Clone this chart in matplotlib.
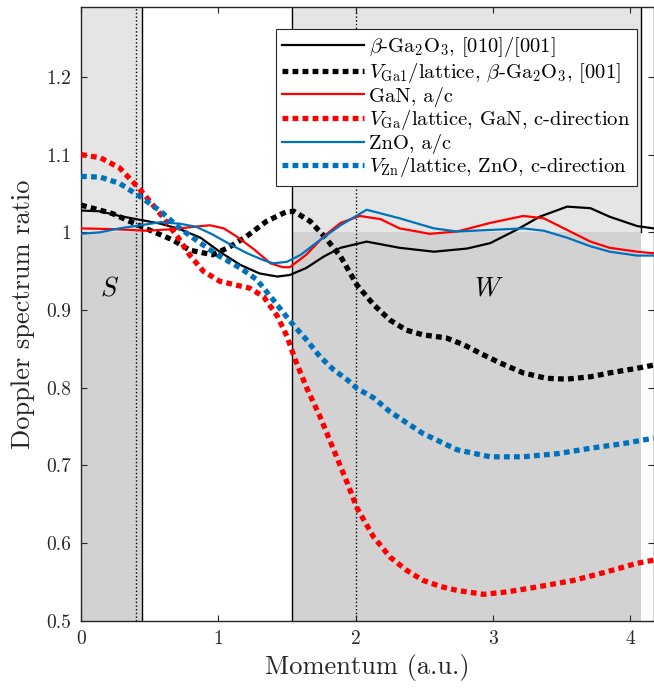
import matplotlib
matplotlib.use("Agg")
import matplotlib.pyplot as plt
from matplotlib.patches import Rectangle

plt.rcParams['font.family'] = 'serif'
plt.rcParams['font.serif'] = ['cmr10']
plt.rcParams['mathtext.fontset'] = 'cm'
plt.rcParams['axes.formatter.use_mathtext'] = True

# beta-Ga2O3 [010]/[001] (solid black)
x_ga2o3 = [0.0, 0.14, 0.28, 0.43, 0.58, 0.72, 0.87, 1.01, 1.16, 1.30, 1.43, 1.52, 1.64, 1.77, 1.89,
           2.08, 2.32, 2.57, 2.81, 2.98, 3.17, 3.34, 3.54, 3.71, 3.85, 4.05, 4.17]
y_ga2o3 = [1.028, 1.027, 1.021, 1.016, 1.011, 1.004, 0.993, 0.975, 0.958, 0.947, 0.943, 0.945, 0.954, 0.969, 0.980,
           0.988, 0.980, 0.975, 0.979, 0.986, 1.003, 1.020, 1.033, 1.031, 1.020, 1.008, 1.005]

# V_Ga1/lattice beta-Ga2O3 [001] (dotted black)
x_vga1 = [0.0, 0.23, 0.47, 0.67, 0.79, 0.96, 1.08, 1.20, 1.35, 1.49, 1.55, 1.67, 1.77, 1.89, 2.01,
          2.13, 2.25, 2.37, 2.49, 2.66, 2.79, 2.91, 3.05, 3.22, 3.39, 3.54, 3.71, 3.85, 4.05, 4.17]
y_vga1 = [1.035, 1.024, 1.005, 0.990, 0.977, 0.971, 0.981, 0.994, 1.014, 1.026, 1.027, 1.014, 0.995, 0.969, 0.932,
          0.907, 0.887, 0.874, 0.868, 0.864, 0.855, 0.844, 0.832, 0.819, 0.812, 0.811, 0.814, 0.819, 0.825, 0.829]

# GaN a/c (solid red)
x_gan = [0.0, 0.24, 0.48, 0.67, 0.82, 0.94, 1.04, 1.13, 1.26, 1.38, 1.47, 1.52, 1.64, 1.77, 1.89,
         2.03, 2.18, 2.32, 2.54, 2.74, 2.98, 3.22, 3.37, 3.54, 3.71, 3.85, 4.05, 4.17]
y_gan = [1.005, 1.004, 1.002, 1.004, 1.007, 1.009, 1.005, 0.995, 0.978, 0.960, 0.955, 0.955, 0.971, 0.995, 1.012,
         1.021, 1.017, 1.005, 0.998, 1.001, 1.012, 1.021, 1.018, 1.003, 0.988, 0.980, 0.975, 0.973]

# V_Ga/lattice GaN c-direction (dotted red)
x_vga = [0.0, 0.14, 0.28, 0.43, 0.58, 0.70, 0.79, 0.89, 1.01, 1.13, 1.23, 1.33, 1.43, 1.50, 1.56,
         1.64, 1.74, 1.84, 1.94, 2.01, 2.13, 2.25, 2.37, 2.49, 2.62, 2.74, 2.93, 3.10, 3.34, 3.59,
         3.83, 4.05, 4.17]
y_vga = [1.100, 1.096, 1.083, 1.055, 1.023, 0.995, 0.971, 0.950, 0.937, 0.932, 0.928, 0.917, 0.892, 0.866, 0.836,
         0.801, 0.763, 0.720, 0.677, 0.645, 0.608, 0.582, 0.565, 0.552, 0.544, 0.539, 0.534, 0.537, 0.544, 0.552,
         0.563, 0.574, 0.578]

# ZnO a/c (solid blue)
x_zno = [0.0, 0.14, 0.28, 0.43, 0.58, 0.72, 0.84, 0.96, 1.09, 1.21, 1.33, 1.40, 1.50, 1.60, 1.74,
         1.89, 2.08, 2.32, 2.57, 2.74, 2.98, 3.22, 3.37, 3.54, 3.71, 3.85, 4.05, 4.17]
y_zno = [0.998, 1.000, 1.005, 1.009, 1.013, 1.011, 1.007, 0.997, 0.984, 0.973, 0.964, 0.960, 0.962, 0.971, 0.990,
         1.009, 1.029, 1.018, 1.005, 1.001, 1.003, 1.005, 1.002, 0.993, 0.982, 0.975, 0.970, 0.970]

# V_Zn/lattice ZnO c-direction (dotted blue)
x_vzn = [0.0, 0.14, 0.28, 0.43, 0.58, 0.72, 0.87, 1.01, 1.16, 1.28, 1.40, 1.52, 1.64, 1.74, 1.84,
         1.94, 2.01, 2.13, 2.25, 2.49, 2.74, 2.98, 3.22, 3.47, 3.71, 3.95, 4.17]
y_vzn = [1.072, 1.071, 1.063, 1.046, 1.027, 1.005, 0.986, 0.969, 0.954, 0.939, 0.913, 0.886, 0.862, 0.840, 0.823,
         0.810, 0.799, 0.787, 0.769, 0.741, 0.720, 0.711, 0.711, 0.715, 0.722, 0.728, 0.735]

labels = [r'$\beta$-Ga$_2$O$_3$, [010]/[001]',
          r'$V_{\mathrm{Ga1}}$/lattice, $\beta$-Ga$_2$O$_3$, [001]',
          'GaN, a/c',
          r'$V_{\mathrm{Ga}}$/lattice, GaN, c-direction',
          'ZnO, a/c',
          r'$V_{\mathrm{Zn}}$/lattice, ZnO, c-direction']

s_window = [0.0, 0.444]
w_window = [1.539, 4.076]
xticks = [0, 1, 2, 3, 4]
yticks = [0.5, 0.6, 0.7, 0.8, 0.9, 1.0, 1.1, 1.2]
yticklabels = ['0.5', '0.6', '0.7', '0.8', '0.9', '1', '1.1', '1.2']

axcol = '#262626'
blue = '#0072BD'
red = '#FF0000'

fig = plt.figure(figsize=(6.54, 6.90), dpi=100)
ax = fig.add_axes([0.1239, 0.1004, 0.8761, 0.8895])
ax.set_xlim(0, 4.173)
ax.set_ylim(0.5, 1.29)

# shaded S and W windows
for lo, hi in [s_window, w_window]:
    ax.add_patch(Rectangle((lo, 0.5), hi - lo, 0.79, facecolor='#e5e5e5', edgecolor='none', zorder=0))
    ax.add_patch(Rectangle((lo, 0.5), hi - lo, 0.5, facecolor='#d2d2d2', edgecolor='none', zorder=0))
ax.axvline(s_window[1], color='k', lw=1.0, zorder=1)
ax.axvline(w_window[0], color='k', lw=1.0, zorder=1)
ax.plot([w_window[1], w_window[1]], [1.0, 1.29], color='k', lw=1.0, zorder=1)
ax.axvline(0.40, color='k', lw=1.0, ls=':', zorder=1)
ax.axvline(2.0, color='k', lw=1.0, ls=':', zorder=1)

dots = (1.1, 0.8)
ax.plot(x_ga2o3, y_ga2o3, color='k', lw=1.6, label=labels[0], zorder=3)
ax.plot(x_vga1, y_vga1, color='k', lw=3.8, dashes=dots, dash_capstyle='butt', label=labels[1], zorder=3)
ax.plot(x_gan, y_gan, color=red, lw=1.6, label=labels[2], zorder=3)
ax.plot(x_vga, y_vga, color=red, lw=3.8, dashes=dots, dash_capstyle='butt', label=labels[3], zorder=3)
ax.plot(x_zno, y_zno, color=blue, lw=1.6, label=labels[4], zorder=3)
ax.plot(x_vzn, y_vzn, color=blue, lw=3.8, dashes=dots, dash_capstyle='butt', label=labels[5], zorder=3)

ax.text(0.21, 0.928, r'$S$', fontsize=19, ha='center', va='center')
ax.text(2.97, 0.927, r'$W$', fontsize=19, ha='center', va='center')

ax.set_xticks(xticks)
ax.set_xticklabels([str(t) for t in xticks])
ax.set_yticks(yticks)
ax.set_yticklabels(yticklabels)
ax.tick_params(direction='in', top=True, right=True, length=4.5, width=0.8,
               colors=axcol, labelsize=14, pad=7)
for sp in ax.spines.values():
    sp.set_color(axcol)
    sp.set_linewidth(1.0)

ax.set_xlabel('Momentum (a.u.)', fontsize=19, color=axcol, labelpad=4)
ax.set_ylabel('Doppler spectrum ratio', fontsize=19, color=axcol, labelpad=8)

leg = ax.legend(loc='upper right', bbox_to_anchor=(0.970, 0.964), borderaxespad=0,
                fontsize=14.8, handlelength=4.0, handletextpad=0.25, labelspacing=0.08,
                borderpad=0.3, fancybox=False, framealpha=1, edgecolor=axcol)
leg.get_frame().set_linewidth(0.8)
leg.set_zorder(5)

fig.savefig('out.png', dpi=100)
